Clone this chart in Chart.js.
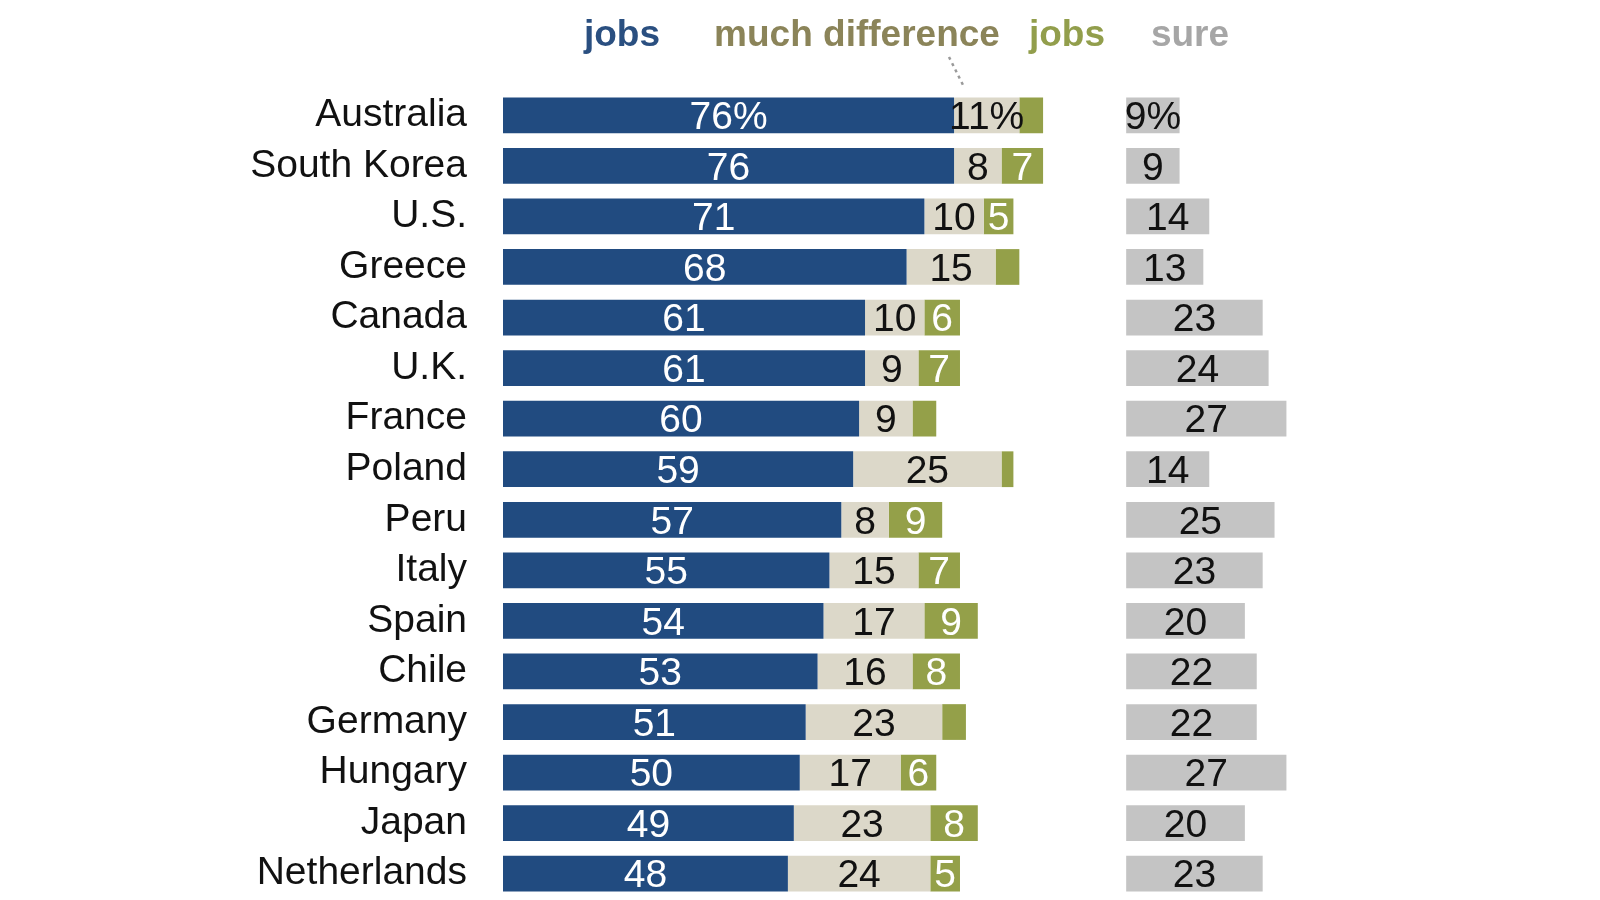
<!DOCTYPE html>
<html>
<head>
<meta charset="utf-8">
<script src="https://cdn.jsdelivr.net/npm/chart.js@4"></script>
<style>
  html, body { margin: 0; padding: 0; background: #fff; overflow: hidden; }
  #wrap { width: 1600px; height: 900px; position: relative; }
</style>
</head>
<body>
<div id="wrap"><canvas id="chart"></canvas></div>
<script>
// data
const countries = ["Australia", "South Korea", "U.S.", "Greece", "Canada", "U.K.", "France", "Poland",
	"Peru", "Italy", "Spain", "Chile", "Germany", "Hungary", "Japan", "Netherlands"];
const moreJobs = [76, 76, 71, 68, 61, 61, 60, 59, 57, 55, 54, 53, 51, 50, 49, 48];
const noDifference = [11, 8, 10, 15, 10, 9, 9, 25, 8, 15, 17, 16, 23, 17, 23, 24];
const fewerJobs = [4, 7, 5, 4, 6, 7, 4, 2, 9, 7, 9, 8, 4, 6, 8, 5];
const notSure = [9, 9, 14, 13, 23, 24, 27, 14, 25, 23, 20, 22, 22, 27, 20, 23];
const headers = ["jobs", "much difference", "jobs", "sure"];

const NOT_SURE_START = 105; // where the separate "not sure" column begins
const BASE_FONT = "Liberation Sans, Arial, sans-serif";

// floating bar ranges
const blueRanges = moreJobs.map((v) => [0, v]);
const beigeRanges = moreJobs.map((v, i) => [v, v + noDifference[i]]);
const greenRanges = moreJobs.map((v, i) => [v + noDifference[i], v + noDifference[i] + fewerJobs[i]]);
const grayRanges = notSure.map((v) => [NOT_SURE_START, NOT_SURE_START + v]);

// value labels inside segments
const segmentLabels = {
	id: "segmentLabels",
	afterDatasetsDraw(chart) {
		const ctx = chart.ctx;
		ctx.save();
		ctx.font = "39px " + BASE_FONT;
		ctx.textAlign = "center";
		ctx.textBaseline = "middle";
		chart.data.datasets.forEach((ds, di) => {
			const meta = chart.getDatasetMeta(di);
			meta.data.forEach((bar, i) => {
				const val = ds.raw[i];
				if (val < ds.minLabel) return;
				const txt = i === 0 ? val + "%" : String(val);
				ctx.fillStyle = ds.labelColor;
				ctx.fillText(txt, (bar.x + bar.base) / 2, bar.y + 3);
			});
		});
		ctx.restore();
	}
};

// column headers + leader line
const headerText = {
	id: "headerText",
	afterDraw(chart) {
		const ctx = chart.ctx;
		const xs = [622, 857, 1067, 1190];
		const colors = ["#2a4f80", "#8b8459", "#929e4c", "#a6a6a6"];
		ctx.save();
		ctx.font = "bold 37px " + BASE_FONT;
		ctx.textAlign = "center";
		ctx.textBaseline = "alphabetic";
		headers.forEach((h, i) => {
			ctx.fillStyle = colors[i];
			ctx.fillText(h, xs[i], 46);
		});
		ctx.strokeStyle = "#9a9a9a";
		ctx.lineWidth = 2.5;
		ctx.setLineDash([3, 4]);
		ctx.beginPath();
		ctx.moveTo(949, 57);
		ctx.lineTo(963, 85);
		ctx.stroke();
		ctx.restore();
	}
};

new Chart(document.getElementById("chart").getContext("2d"), {
	type: "bar",
	data: {
		labels: countries,
		datasets: [
			{ label: "jobs", data: blueRanges, raw: moreJobs, backgroundColor: "#214b80", labelColor: "#ffffff", minLabel: 0 },
			{ label: "much difference", data: beigeRanges, raw: noDifference, backgroundColor: "#dcd8c9", labelColor: "#111111", minLabel: 0 },
			{ label: "jobs", data: greenRanges, raw: fewerJobs, backgroundColor: "#94a049", labelColor: "#ffffff", minLabel: 5 },
			{ label: "sure", data: grayRanges, raw: notSure, backgroundColor: "#c4c4c4", labelColor: "#111111", minLabel: 0 }
		]
	},
	options: {
		indexAxis: "y",
		responsive: true,
		maintainAspectRatio: false,
		animation: false,
		grouped: false,
		barPercentage: 0.707,
		categoryPercentage: 1,
		layout: { padding: { top: 90, bottom: 1, left: 0, right: 2 } },
		plugins: { legend: { display: false }, tooltip: { enabled: false } },
		scales: {
			x: { display: false, min: 0, max: 184.5 },
			y: {
				grid: { display: false },
				border: { display: false },
				ticks: { color: "#111", padding: 28, font: { size: 39, family: BASE_FONT } },
				afterFit(scale) {
					scale.width = 503;
					// don't let the label box push the plot area up from the bottom
					scale.paddingTop = 0;
					scale.paddingBottom = 0;
				}
			}
		}
	},
	plugins: [segmentLabels, headerText]
});
</script>
</body>
</html>
